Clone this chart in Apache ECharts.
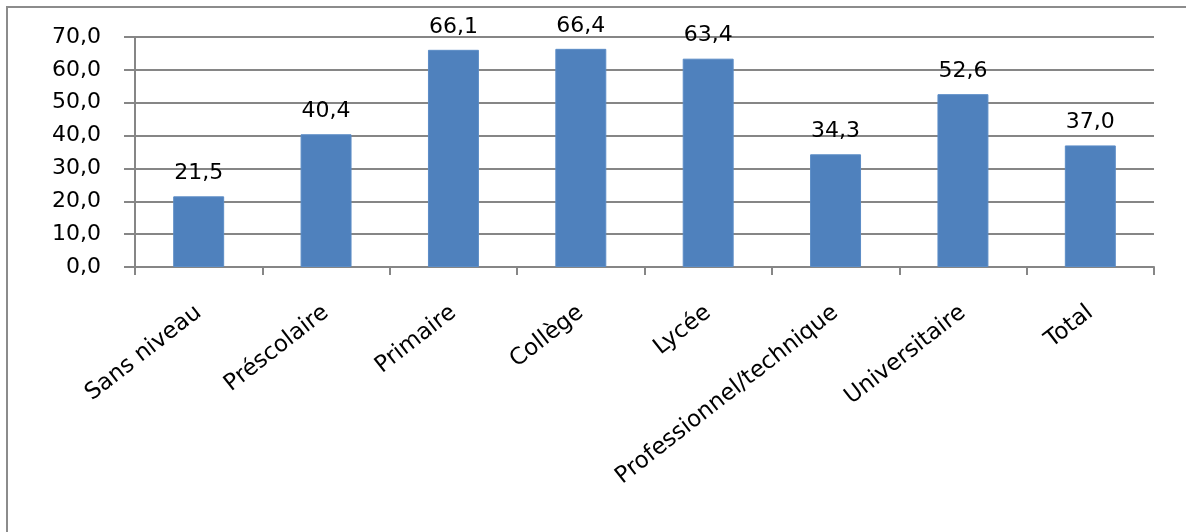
<!DOCTYPE html>
<html>
<head>
<meta charset="utf-8">
<script src="https://cdn.jsdelivr.net/npm/echarts@6/dist/echarts.min.js"></script>
<style>
html,body{margin:0;padding:0;background:#fff;}
#c{width:1186px;height:532px;}
</style>
</head>
<body>
<div id="c"></div>
<script>
const categories = ["Sans niveau", "Préscolaire", "Primaire", "Collège", "Lycée", "Professionnel/technique", "Universitaire", "Total"];
const values = [21.5, 40.4, 66.1, 66.4, 63.4, 34.3, 52.6, 37.0];
const yTicks = [0, 10, 20, 30, 40, 50, 60, 70];

const fmt = v => Number(v).toFixed(1).replace('.', ',');
const FONT = 'DejaVu Sans';
const chart = echarts.init(document.getElementById('c'), null, {renderer: 'canvas'});
chart.setOption({
  animation: false,
  backgroundColor: '#fff',
  graphic: [{
    type: 'rect', z: 100, silent: true,
    shape: {x: 7, y: 7, width: 1300, height: 700},
    style: {fill: 'none', stroke: '#8c8c8c', lineWidth: 2}
  }],
  grid: {left: 135, right: 32, top: 37, bottom: 265, containLabel: false},
  xAxis: {
    type: 'category',
    data: categories,
    axisLine: {show: true, lineStyle: {color: '#868686', width: 2}},
    axisTick: {show: true, alignWithLabel: false, length: 8, lineStyle: {color: '#868686', width: 2}},
    axisLabel: {
      rotate: 38, interval: 0, margin: 43,
      color: '#000', fontFamily: FONT, fontSize: 23
    }
  },
  yAxis: {
    type: 'value', min: 0, max: 70, interval: 10,
    axisLine: {show: true, lineStyle: {color: '#868686', width: 2}},
    axisTick: {show: true, inside: false, length: 11, lineStyle: {color: '#868686', width: 2}},
    splitLine: {show: true, lineStyle: {color: '#868686', width: 2}},
    axisLabel: {
      margin: 34, color: '#000', fontFamily: FONT, fontSize: 22,
      formatter: v => yTicks.includes(v) ? fmt(v) : ''
    }
  },
  series: [{
    type: 'bar',
    data: values,
    barWidth: '40%',
    itemStyle: {color: '#4F81BD', borderColor: '#5b8cc6', borderWidth: 1},
    label: {
      show: true, position: 'top', distance: 12,
      color: '#000', fontFamily: FONT, fontSize: 22,
      formatter: p => fmt(p.value)
    }
  }]
});
</script>
</body>
</html>
